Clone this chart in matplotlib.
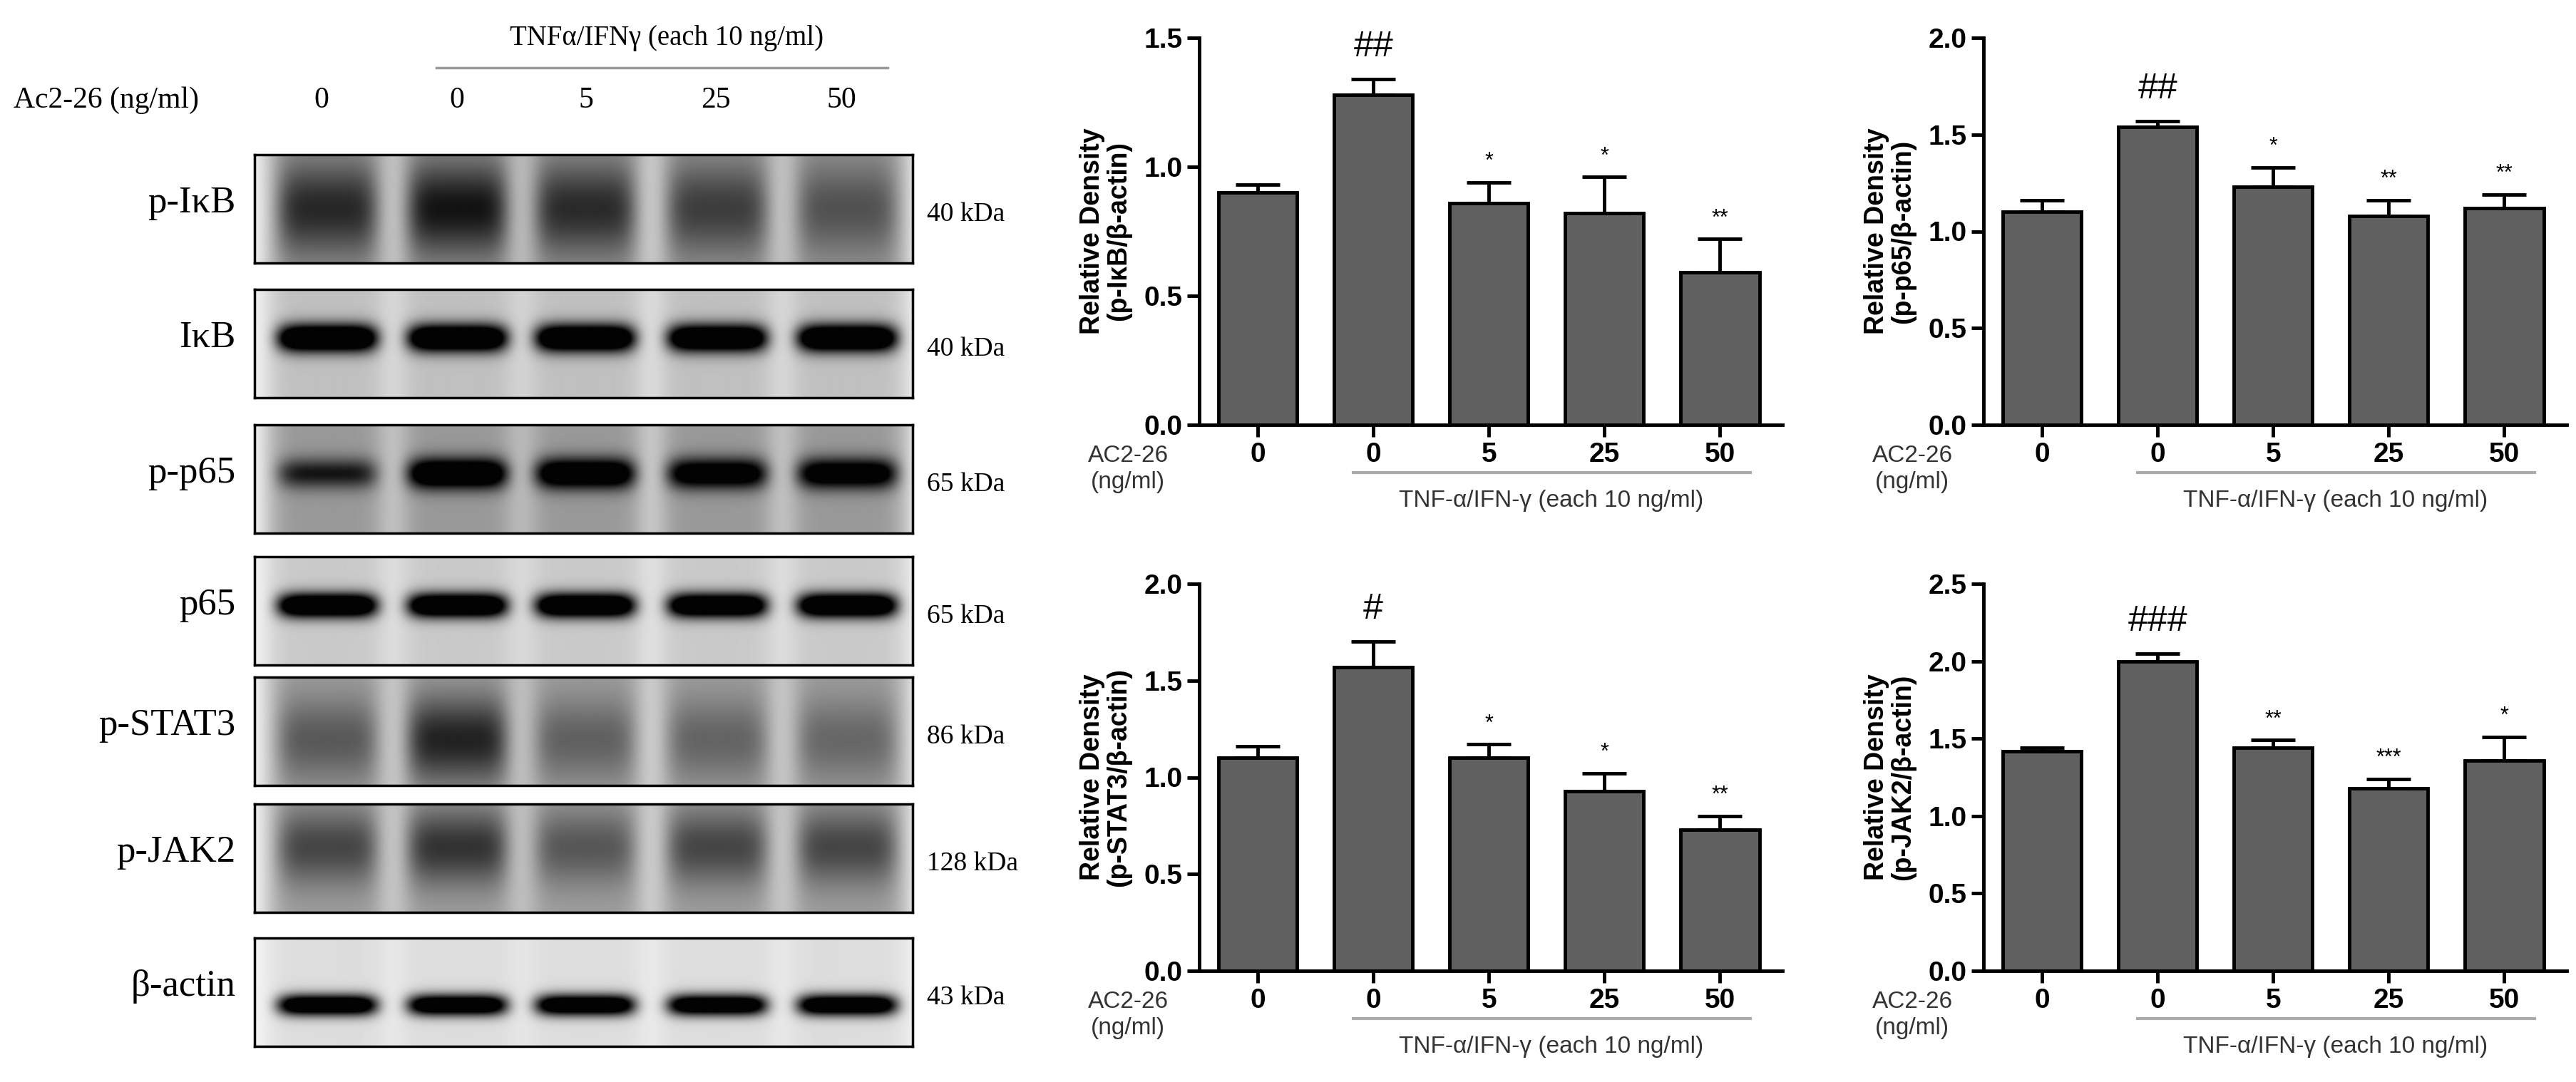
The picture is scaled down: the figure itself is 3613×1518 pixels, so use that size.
import numpy as np
import matplotlib
matplotlib.use("Agg")
import matplotlib.pyplot as plt

W, H = 3613, 1518

# ---- blot data (band darkness per lane, 0..1) ----
blot_names = ["p-I\u03baB", "I\u03baB", "p-p65", "p65", "p-STAT3", "p-JAK2", "\u03b2-actin"]
blot_kda = ["40 kDa", "40 kDa", "65 kDa", "65 kDa", "86 kDa", "128 kDa", "43 kDa"]
blot_dark = [
    [0.72, 0.85, 0.70, 0.58, 0.45],
    [1.00, 0.98, 0.98, 0.95, 0.98],
    [0.50, 0.95, 0.90, 0.80, 0.80],
    [1.00, 1.00, 1.00, 0.97, 1.00],
    [0.45, 0.80, 0.40, 0.38, 0.36],
    [0.62, 0.75, 0.50, 0.62, 0.62],
    [0.97, 0.97, 0.97, 0.95, 0.97],
]
# band centre (fraction of box height), band sigma, gain, lane background
blot_center = [0.50, 0.45, 0.45, 0.45, 0.58, 0.40, 0.62]
blot_sigma = [0.30, 0.09, 0.10, 0.08, 0.28, 0.25, 0.07]
blot_gain = [0.65, 1.4, 1.1, 1.4, 0.65, 0.6, 1.4]
blot_bg = [0.38, 0.22, 0.38, 0.18, 0.35, 0.35, 0.10]
lane_labels = ["0", "0", "5", "25", "50"]

# ---- bar chart data ----
groups = ["0", "0", "5", "25", "50"]
pikb = [0.90, 1.28, 0.86, 0.82, 0.59]
pikb_err = [0.03, 0.06, 0.08, 0.14, 0.13]
pikb_sig = ["", "##", "*", "*", "**"]
pp65 = [1.10, 1.54, 1.23, 1.08, 1.12]
pp65_err = [0.06, 0.03, 0.10, 0.08, 0.07]
pp65_sig = ["", "##", "*", "**", "**"]
pstat3 = [1.10, 1.57, 1.10, 0.93, 0.73]
pstat3_err = [0.06, 0.13, 0.07, 0.09, 0.07]
pstat3_sig = ["", "#", "*", "*", "**"]
pjak2 = [1.42, 2.00, 1.44, 1.18, 1.36]
pjak2_err = [0.02, 0.05, 0.05, 0.06, 0.15]
pjak2_sig = ["", "###", "**", "***", "*"]

fig = plt.figure(figsize=(W / 100, H / 100), dpi=100)
SERIF = "Liberation Serif"
SANS = "Liberation Sans"


def px_axes(x, y, w, h):
    return fig.add_axes([x / W, 1 - (y + h) / H, w / W, h / H])


def px_text(x, y, s, **kw):
    fig.text(x / W, 1 - y / H, s, **kw)


# ---- western blot panel ----
box_x0, box_x1 = 357, 1280
box_h = 152
row_tops = [217, 406, 596, 781, 950, 1128, 1316]
lane_x = [459, 641, 820, 1005, 1187]

px_text(935, 54, "TNF\u03b1/IFN\u03b3 (each 10 ng/ml)", family=SERIF, fontsize=28,
        ha="center", va="center")
fig.add_artist(plt.Line2D([612 / W, 1245 / W], [1 - 95 / H] * 2, color="#999999", lw=2.5))
px_text(19, 141, "Ac2-26 (ng/ml)", family=SERIF, fontsize=30, ha="left", va="center")
for lx, lab in zip([451, 641, 822, 1004, 1180], lane_labels):
    px_text(lx, 141, lab, family=SERIF, fontsize=30, ha="center", va="center")

bw = box_x1 - box_x0
xx = np.arange(bw)[None, :] + box_x0
yy = np.linspace(0, 1, box_h)[:, None]
for i, top in enumerate(row_tops):
    img = np.zeros((box_h, bw))
    for lx, d in zip(lane_x, blot_dark[i]):
        halfw = 70
        lane = np.exp(-np.abs((xx - lx) / (halfw + 18)) ** 6)
        core = np.exp(-np.abs((xx - lx) / halfw) ** 6)
        band = np.exp(-0.5 * ((yy - blot_center[i]) / blot_sigma[i]) ** 2)
        img = img + blot_bg[i] * lane + blot_gain[i] * d * core * band
    img = np.clip(img, 0, 1)
    ax = px_axes(box_x0, top, bw, box_h)
    ax.imshow(1 - img * 0.95 - 0.04, cmap="gray", vmin=0, vmax=1, aspect="auto",
              interpolation="bilinear")
    ax.set_xticks([])
    ax.set_yticks([])
    for s in ax.spines.values():
        s.set_linewidth(2.5)
    px_text(330, top + box_h / 2 - 8, blot_names[i], family=SERIF, fontsize=38,
            ha="right", va="center")
    px_text(1300, top + box_h / 2 + 8, blot_kda[i], family=SERIF, fontsize=27,
            ha="left", va="center")

# ---- bar charts ----
charts = [
    (1682, 53, pikb, pikb_err, pikb_sig, 1.5, "(p-I\u03baB/\u03b2-actin)"),
    (2782, 53, pp65, pp65_err, pp65_sig, 2.0, "(p-p65/\u03b2-actin)"),
    (1682, 819, pstat3, pstat3_err, pstat3_sig, 2.0, "(p-STAT3/\u03b2-actin)"),
    (2782, 819, pjak2, pjak2_err, pjak2_sig, 2.5, "(p-JAK2/\u03b2-actin)"),
]
aw, ah = 818, 543
for x0, y0, vals, errs, sigs, ymax, lab in charts:
    ax = px_axes(x0, y0, aw, ah)
    pos = np.arange(len(vals))
    ax.bar(pos, vals, width=0.68, color="#606060", edgecolor="black", linewidth=3.5,
           zorder=3)
    ax.errorbar(pos, vals, yerr=[np.zeros(len(errs)), errs], fmt="none", ecolor="black",
                elinewidth=3.5, capsize=22, capthick=3.5, zorder=2)
    for p, v, e, s in zip(pos, vals, errs, sigs):
        if s:
            big = "#" in s
            ax.annotate(s, (p, v + e), xytext=(0, 16 if big else 10),
                        textcoords="offset points", ha="center", va="bottom",
                        fontsize=36 if big else 22, family=SANS)
    ax.set_xlim(-0.506, 4.54)
    ax.set_ylim(0, ymax)
    ax.set_yticks(np.arange(0, ymax + 0.01, 0.5))
    ax.set_yticklabels([f"{t:.1f}" for t in np.arange(0, ymax + 0.01, 0.5)])
    ax.set_xticks(pos)
    ax.set_xticklabels(groups)
    for t in ax.get_xticklabels() + ax.get_yticklabels():
        t.set_family(SANS)
        t.set_fontweight("bold")
        t.set_fontsize(28)
    ax.tick_params(length=12, width=3.5, direction="out", pad=5)
    ax.spines["top"].set_visible(False)
    ax.spines["right"].set_visible(False)
    ax.spines["left"].set_linewidth(3.5)
    ax.spines["bottom"].set_linewidth(3.5)
    ax.set_ylabel("Relative Density\n" + lab, family=SANS, fontweight="bold",
                  fontsize=27, labelpad=12, linespacing=1.05)
    yb = y0 + ah
    px_text(x0 - 100, yb + 43, "AC2-26", family=SANS, fontsize=24, color="#333333",
            ha="center", va="center")
    px_text(x0 - 100, yb + 80, "(ng/ml)", family=SANS, fontsize=24, color="#333333",
            ha="center", va="center")
    fig.add_artist(plt.Line2D([(x0 + 216) / W, (x0 + 773) / W], [1 - (yb + 67) / H] * 2,
                              color="#aaaaaa", lw=3))
    px_text(x0 + 494, yb + 107, "TNF-\u03b1/IFN-\u03b3 (each 10 ng/ml)", family=SANS,
            fontsize=24, color="#333333", ha="center", va="center")

fig.savefig("out.png", dpi=100, facecolor="white")
